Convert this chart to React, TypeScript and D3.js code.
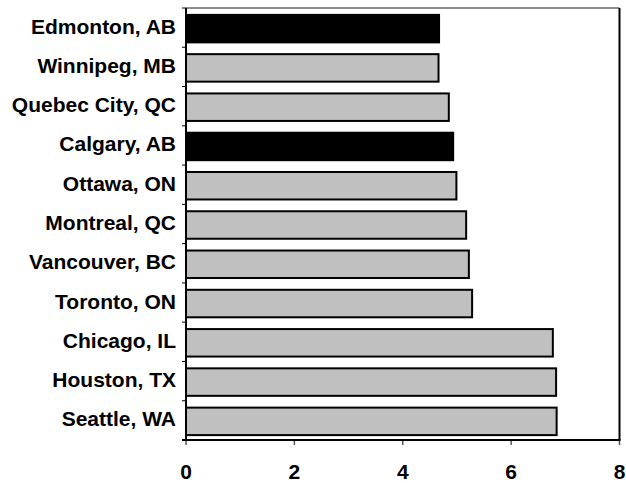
import React from "react";
import * as d3 from "d3";

const cities = [
  "Edmonton, AB",
  "Winnipeg, MB",
  "Quebec City, QC",
  "Calgary, AB",
  "Ottawa, ON",
  "Montreal, QC",
  "Vancouver, BC",
  "Toronto, ON",
  "Chicago, IL",
  "Houston, TX",
  "Seattle, WA",
];
const values = [4.67, 4.66, 4.85, 4.93, 4.99, 5.17, 5.22, 5.28, 6.77, 6.83, 6.84];
const highlighted = ["Edmonton, AB", "Calgary, AB"];
const xTicks = [0, 2, 4, 6, 8];

const W = 626;
const H = 483;
const M = { left: 186, right: 6.5, top: 8, bottom: 43 };

export default function App() {
  const x = d3.scaleLinear().domain([0, 8]).range([M.left, W - M.right]);
  const y = d3
    .scaleBand<string>()
    .domain(cities)
    .range([M.top, H - M.bottom])
    .paddingInner(0.3)
    .paddingOuter(0.15);
  const yEdge = d3.scaleBand<string>().domain(cities).range([M.top, H - M.bottom]);
  const font = "'Liberation Sans', Arial, Helvetica, sans-serif";
  const x0 = x(0);
  const x1 = x(8);
  const yTop = M.top;
  const yBot = H - M.bottom;

  return (
    <svg
      width={W}
      height={H}
      style={{ position: "absolute", left: 0, top: 0, background: "#fff" }}
      fontFamily={font}
    >
      {/* frame */}
      <line x1={x0} x2={x1} y1={yTop} y2={yTop} stroke="#666" strokeWidth={1.5} />
      <line x1={x1} x2={x1} y1={yTop} y2={yBot} stroke="#000" strokeWidth={2} />
      {/* bars */}
      {cities.map((c, i) => (
        <rect
          key={c}
          x={x(0)}
          y={(y(c) as number) + 1}
          width={x(values[i]) - x(0)}
          height={y.bandwidth()}
          fill={highlighted.includes(c) ? "#000" : "#C0C0C0"}
          stroke="#000"
          strokeWidth={2}
        />
      ))}
      {/* y ticks */}
      {cities.map((c) => (
        <line
          key={"t" + c}
          x1={x0 - 4}
          x2={x0}
          y1={yEdge(c) as number}
          y2={yEdge(c) as number}
          stroke="#000"
          strokeWidth={1}
        />
      ))}
      <line x1={x0 - 4} x2={x0} y1={yBot} y2={yBot} stroke="#000" strokeWidth={1} />
      {/* x ticks */}
      {xTicks.map((t) => (
        <line key={"xt" + t} x1={x(t)} x2={x(t)} y1={yBot} y2={yBot + 5} stroke="#555" strokeWidth={1.5} />
      ))}
      {/* axes */}
      <line x1={x0} x2={x0} y1={yTop} y2={yBot + 1} stroke="#000" strokeWidth={2} />
      <line x1={x0 - 4} x2={x1 + 1} y1={yBot} y2={yBot} stroke="#000" strokeWidth={2} />
      {/* y labels */}
      {cities.map((c) => (
        <text
          key={"l" + c}
          x={176}
          y={(yEdge(c) as number) + yEdge.bandwidth() / 2 + 6}
          textAnchor="end"
          fontSize={21}
          fontWeight="bold"
          fill="#000"
        >
          {c}
        </text>
      ))}
      {/* x labels */}
      {xTicks.map((t) => (
        <text
          key={"xl" + t}
          x={x(t)}
          y={479}
          textAnchor="middle"
          fontSize={21}
          fontWeight="bold"
          fill="#000"
        >
          {t}
        </text>
      ))}
    </svg>
  );
}
